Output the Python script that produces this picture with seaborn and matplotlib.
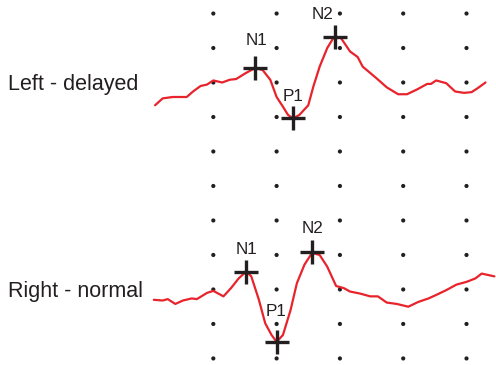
import numpy as np
import pandas as pd
import matplotlib
matplotlib.use("Agg")
import matplotlib.pyplot as plt
import seaborn as sns

# ---- data (latency in ms, amplitude in µV) ----
left_ms = [4, 10, 18, 29, 34, 40, 45, 50, 57, 63, 68, 75, 83, 89, 95, 100, 105, 109,
           113, 118, 125, 129, 134, 140, 145, 148, 151, 158, 164, 168, 179, 187, 196,
           203, 211, 219, 222, 226, 234, 241, 248, 254, 259, 265]
left_uv = [-3.3, -2.3, -2.1, -2.1, -1.3, -0.5, -0.3, 0.3, 0.0, 0.4, 0.5, 1.3, 2.1, 1.8,
           0.4, -2.1, -3.5, -4.7, -5.2, -4.7, -3.3, -0.6, 2.3, 5.0, 6.5, 6.6, 6.4, 4.5,
           3.7, 2.3, 0.6, -0.7, -1.7, -1.7, -1.0, -0.2, -0.2, 0.3, -0.1, -1.3, -1.5,
           -1.4, -0.8, 0.0]
right_ms = [3, 10, 14, 20, 26, 33, 37, 45, 50, 58, 64, 70, 76, 80, 86, 91, 96, 100, 105,
            111, 116, 122, 128, 134, 140, 147, 153, 158, 166, 174, 180, 187, 195, 204,
            212, 220, 226, 234, 242, 250, 257, 262, 272]
right_uv = [-1.5, -1.6, -1.4, -2.1, -1.6, -1.3, -1.4, -0.5, -0.2, -1.0, 0.2, 1.6, 2.6,
            1.9, -1.5, -4.9, -6.6, -7.6, -6.6, -3.0, 0.9, 3.6, 5.3, 5.0, 3.3, 0.5, 0.2,
            -0.3, -0.6, -1.0, -1.0, -1.9, -2.1, -2.5, -1.8, -1.3, -0.8, -0.1, 0.7, 1.1,
            1.6, 2.3, 1.9]

peak_names = ["N1", "P1", "N2"]
left_peak_ms = [83, 113, 146]
left_peak_uv = [2.1, -5.1, 6.6]
right_peak_ms = [76, 100, 128]
right_peak_uv = [2.5, -7.6, 5.4]

trace_names = ["Left - delayed", "Right - normal"]
trace_offsets = [30, 0]           # vertical stacking of the two traces (µV)
grid_ms = [50, 100, 150, 200, 250]
grid_uv = list(range(-10, 41, 5))

# label offsets (pixels) for peak names
left_lbl_off = [(1, 28), (0, 21), (-12, 22)]
right_lbl_off = [(0, 23), (-1, 30), (0, 24)]

RED = "#e8232b"
DARK = "#231f20"

sns.set_theme(style="white")
plt.rcParams["font.family"] = ["Liberation Sans", "DejaVu Sans"]

fig = plt.figure(figsize=(4.96, 3.65), dpi=100)
ax = fig.add_axes([0, 0, 1, 1])

# grid dots
gx, gy = np.meshgrid(grid_ms, grid_uv)
sns.scatterplot(x=gx.ravel(), y=gy.ravel(), s=9, color=DARK, edgecolor="none",
                ax=ax, zorder=1)

traces = pd.concat([
    pd.DataFrame({"trace": trace_names[0], "ms": left_ms,
                  "amp": np.array(left_uv) + trace_offsets[0]}),
    pd.DataFrame({"trace": trace_names[1], "ms": right_ms,
                  "amp": np.array(right_uv) + trace_offsets[1]}),
])
sns.lineplot(data=traces, x="ms", y="amp", hue="trace",
             palette=[RED, RED], sort=False, estimator=None,
             linewidth=1.6, legend=False, ax=ax, zorder=2,
             solid_joinstyle="round", solid_capstyle="round")

peaks = pd.concat([
    pd.DataFrame({"name": peak_names, "ms": left_peak_ms,
                  "amp": np.array(left_peak_uv) + trace_offsets[0]}),
    pd.DataFrame({"name": peak_names, "ms": right_peak_ms,
                  "amp": np.array(right_peak_uv) + trace_offsets[1]}),
])
sns.scatterplot(data=peaks, x="ms", y="amp", marker="+", s=300,
                color=DARK, linewidth=2.4, ax=ax, zorder=3)

for names, xs, ys, off, offs in [
        (peak_names, left_peak_ms, left_peak_uv, trace_offsets[0], left_lbl_off),
        (peak_names, right_peak_ms, right_peak_uv, trace_offsets[1], right_lbl_off)]:
    for n, x, y, o in zip(names, xs, ys, offs):
        ax.annotate(n, (x, y + off), xytext=o, textcoords="offset pixels",
                    ha="center", va="center", fontsize=12.3, color=DARK)

for name, off in zip(trace_names, trace_offsets):
    ax.text(-112, off - 1.1, name, ha="left", va="baseline",
            fontsize=15.5, color=DARK)

ax.set_xlim(-118.5, 273.3)
ax.set_ylim(-10.95, 41.96)
ax.axis("off")

fig.savefig("out.png", dpi=100)
